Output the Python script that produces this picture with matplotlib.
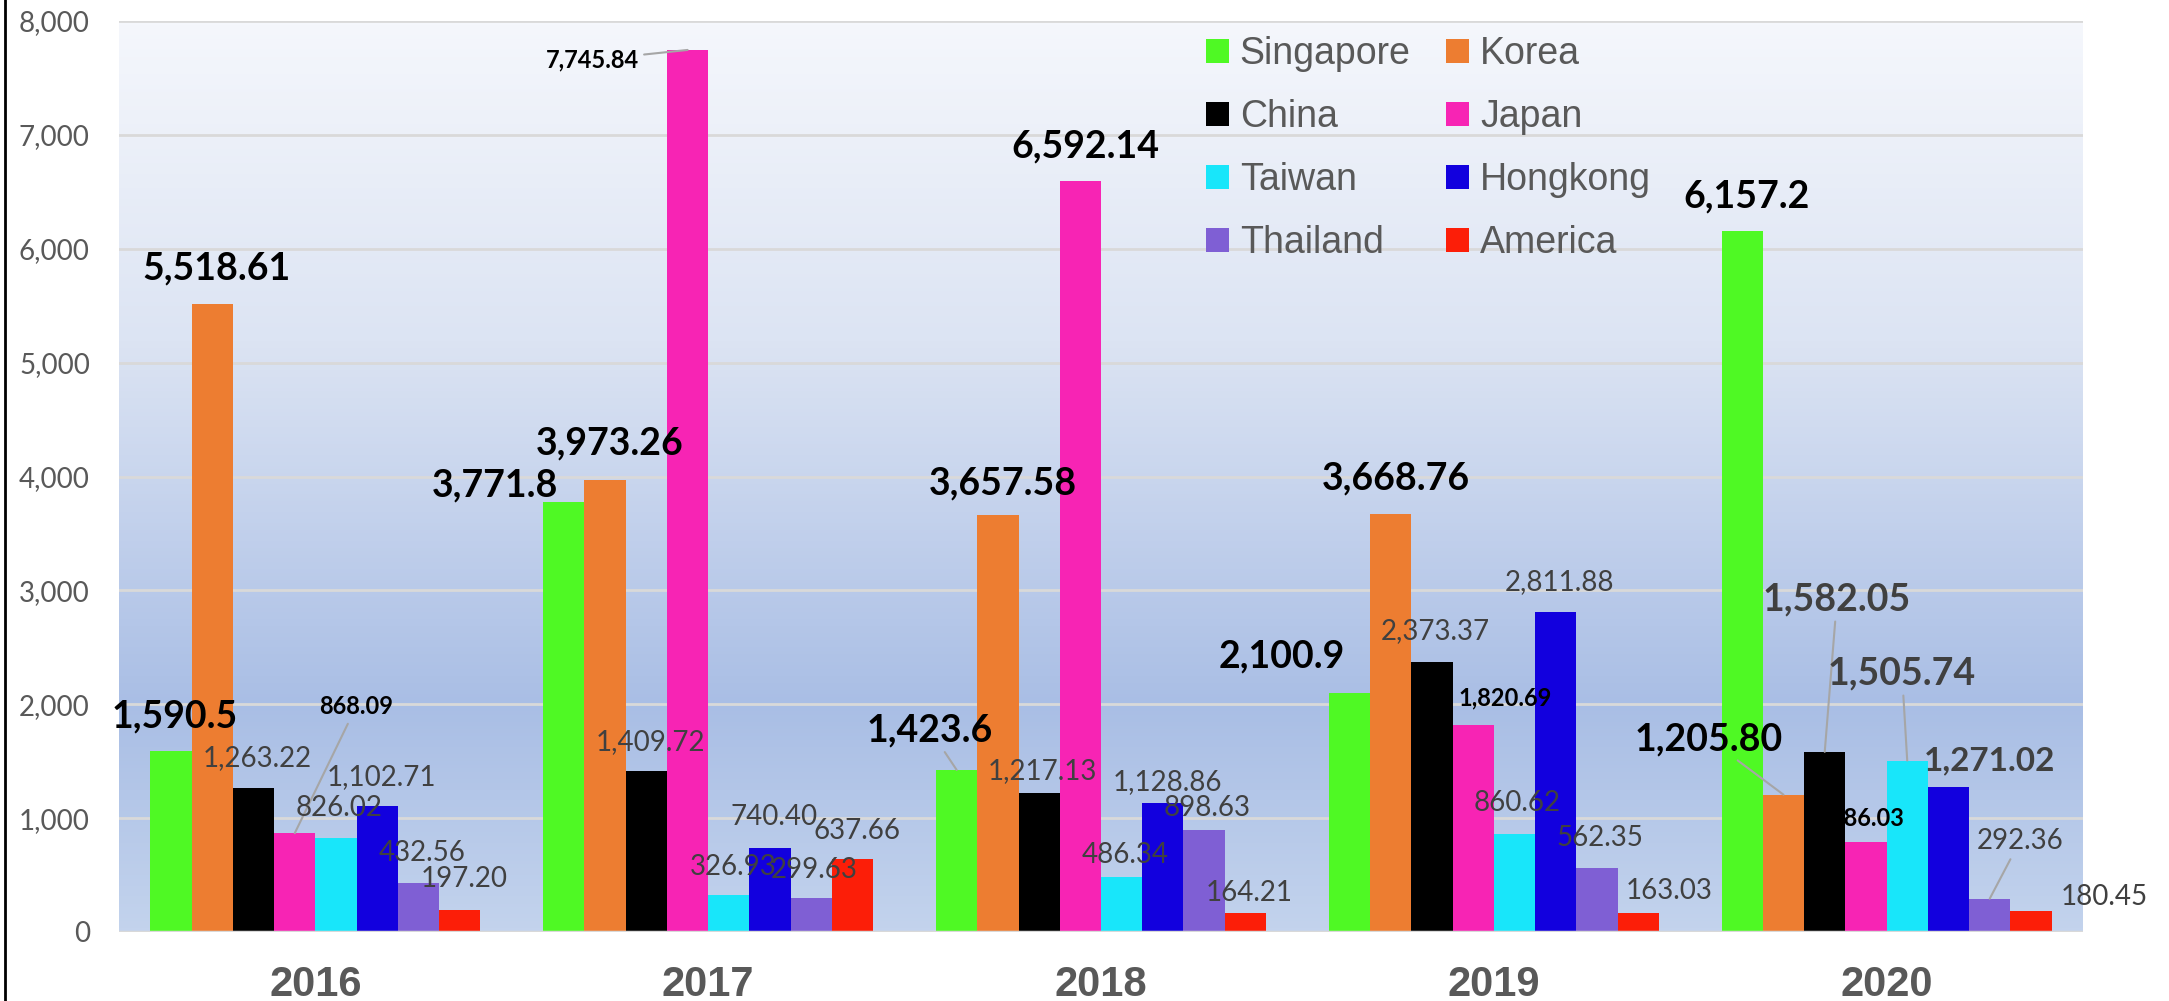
import matplotlib.pyplot as plt
import numpy as np
from matplotlib.colors import LinearSegmentedColormap
from matplotlib.lines import Line2D
from matplotlib.transforms import Bbox, TransformedBbox

years = ['2016', '2017', '2018', '2019', '2020']
countries = ['Singapore', 'Korea', 'China', 'Japan', 'Taiwan', 'Hongkong', 'Thailand', 'America']

singapore = [1590.5, 3771.8, 1423.6, 2100.9, 6157.2]
korea = [5518.61, 3973.26, 3657.58, 3668.76, 1205.80]
china = [1263.22, 1409.72, 1217.13, 2373.37, 1582.05]
japan = [868.09, 7745.84, 6592.14, 1820.69, 786.03]
taiwan = [826.02, 326.93, 486.34, 860.62, 1505.74]
hongkong = [1102.71, 740.40, 1128.86, 2811.88, 1271.02]
thailand = [432.56, 299.63, 898.63, 562.35, 292.36]
america = [197.20, 637.66, 164.21, 163.03, 180.45]

colors = ['#4FF924', '#ED7D31', '#000000', '#F724B4', '#18E6FA', '#1200DE', '#7F5FD4', '#FC1E08']

series = [singapore, korea, china, japan, taiwan, hongkong, thailand, america]

W, H = 2169, 1001
fig = plt.figure(figsize=(W / 100, H / 100), dpi=100)
ax = fig.add_axes([119 / W, 69 / H, 1964 / W, 911 / H])

# gradient background of the plot area
grad_cmap = LinearSegmentedColormap.from_list(
    'bg', [(0, '#C3D3ED'), (0.25, '#A9BEE5'), (0.65, '#DCE4F3'), (1, '#F5F7FC')])
grad = np.linspace(0, 1, 256).reshape(-1, 1)
ax.imshow(grad, cmap=grad_cmap, aspect='auto', origin='lower',
          extent=(-0.5, 4.5, 0, 8000), zorder=0)

bw = 0.105
x = np.arange(len(years))
bars = []
for i, (vals, c, name) in enumerate(zip(series, colors, countries)):
    b = ax.bar(x + (i - 3.5) * bw, vals, bw, color=c, label=name, zorder=2)
    bars.append(b)

ax.set_xlim(-0.5, 4.5)
ax.set_ylim(0, 8000)
ax.set_yticks(range(0, 8001, 1000))
ax.set_yticklabels(['{:,}'.format(v) for v in range(0, 8001, 1000)],
                   fontsize=20, family='Lato', color='#595959')
ax.set_xticks(x)
ax.set_xticklabels(years, fontsize=30, fontweight='bold', family='Liberation Sans', color='#595959')
ax.tick_params(axis='y', length=0, pad=21)
ax.tick_params(axis='x', length=0, pad=24)
ax.grid(axis='y', color='#D9D9D9', linewidth=2, zorder=1)
ax.set_axisbelow(True)
for s in ax.spines.values():
    s.set_visible(False)
ax.axhline(0, color='#D9D9D9', linewidth=2.5, zorder=3)

# label styles: (weight, size, color)
styles = {
    'big': ('bold', 27, '#000000'),
    'small': ('bold', 17, '#000000'),
    'reg': ('normal', 20, '#404040'),
    'grey': ('bold', 27, '#404040'),
    'grey2': ('bold', 24, '#404040'),
}

# (series, year, text centre x px, text centre y px, style, leader line)
labels = [
    (0, 0, 175, 716, 'big', False),
    (1, 0, 217, 268, 'big', False),
    (2, 0, 257, 758, 'reg', False),
    (3, 0, 356, 707, 'small', True),
    (4, 0, 339, 808, 'reg', False),
    (5, 0, 381, 777, 'reg', False),
    (6, 0, 422, 853, 'reg', False),
    (7, 0, 464, 879, 'reg', False),
    (0, 1, 495, 485, 'big', False),
    (1, 1, 610, 443, 'big', False),
    (2, 1, 650, 742, 'reg', False),
    (3, 1, 592, 60, 'small', True),
    (4, 1, 733, 867, 'reg', False),
    (5, 1, 774, 817, 'reg', False),
    (6, 1, 814, 870, 'reg', False),
    (7, 1, 857, 831, 'reg', False),
    (0, 2, 930, 730, 'big', True),
    (1, 2, 1003, 483, 'big', False),
    (2, 2, 1042, 771, 'reg', False),
    (3, 2, 1085, 146, 'big', False),
    (4, 2, 1125, 855, 'reg', False),
    (5, 2, 1167, 782, 'reg', False),
    (6, 2, 1207, 808, 'reg', False),
    (7, 2, 1249, 893, 'reg', False),
    (0, 3, 1282, 656, 'big', False),
    (1, 3, 1396, 478, 'big', False),
    (2, 3, 1435, 631, 'reg', False),
    (3, 3, 1505, 698, 'small', False),
    (4, 3, 1517, 803, 'reg', False),
    (5, 3, 1559, 582, 'reg', False),
    (6, 3, 1600, 838, 'reg', False),
    (7, 3, 1669, 891, 'reg', False),
    (0, 4, 1747, 196, 'big', False),
    (1, 4, 1709, 739, 'big', True),
    (2, 4, 1837, 599, 'grey', True),
    (3, 4, 1868, 818, 'small', False),
    (4, 4, 1902, 673, 'grey', True),
    (5, 4, 1990, 761, 'grey2', False),
    (6, 4, 2020, 841, 'reg', True),
    (7, 4, 2104, 897, 'reg', False),
]

for si, yi, px, py, st, leader in labels:
    v = series[si][yi]
    txt = '{:,.1f}'.format(v) if si == 0 else '{:,.2f}'.format(v)
    weight, size, col = styles[st]
    bx = x[yi] + (si - 3.5) * bw
    kw = dict(xycoords='data', xytext=(px, H - py), textcoords='figure pixels',
              ha='center', va='center', fontsize=size, fontweight=weight,
              color=col, family='Lato', zorder=5, annotation_clip=False)
    if leader:
        kw['arrowprops'] = dict(arrowstyle='-', color='#A6A6A6', lw=1.5,
                                shrinkA=2, shrinkB=0)
    a = ax.annotate(txt, xy=(bx, v), **kw)
    # japan 2020 label: its first digit is hidden behind the china bar
    if si == 3 and yi == 4:
        left = x[yi] + (2 - 3.5) * bw + bw / 2
        a.set_clip_on(True)
        a.set_clip_box(TransformedBbox(Bbox([[left, 0], [4.5, 8000]]), ax.transData))

# legend, filled row by row
order = [0, 2, 4, 6, 1, 3, 5, 7]
leg = ax.legend([bars[i] for i in order], [countries[i] for i in order],
                ncol=2, loc='upper left', bbox_to_anchor=(1206 / W, 1 - 36 / H),
                bbox_transform=fig.transFigure, frameon=False,
                prop={'family': 'Liberation Sans', 'size': 27},
                handlelength=0.6, handleheight=0.6, handletextpad=0.3,
                columnspacing=0.95, labelspacing=0.72, borderpad=0, borderaxespad=0)
for t in leg.get_texts():
    t.set_color('#595959')

# black line on the left edge
fig.add_artist(Line2D([5 / W, 5 / W], [0, 1], color='black', linewidth=2, transform=fig.transFigure))

fig.savefig('out.png', dpi=100)
